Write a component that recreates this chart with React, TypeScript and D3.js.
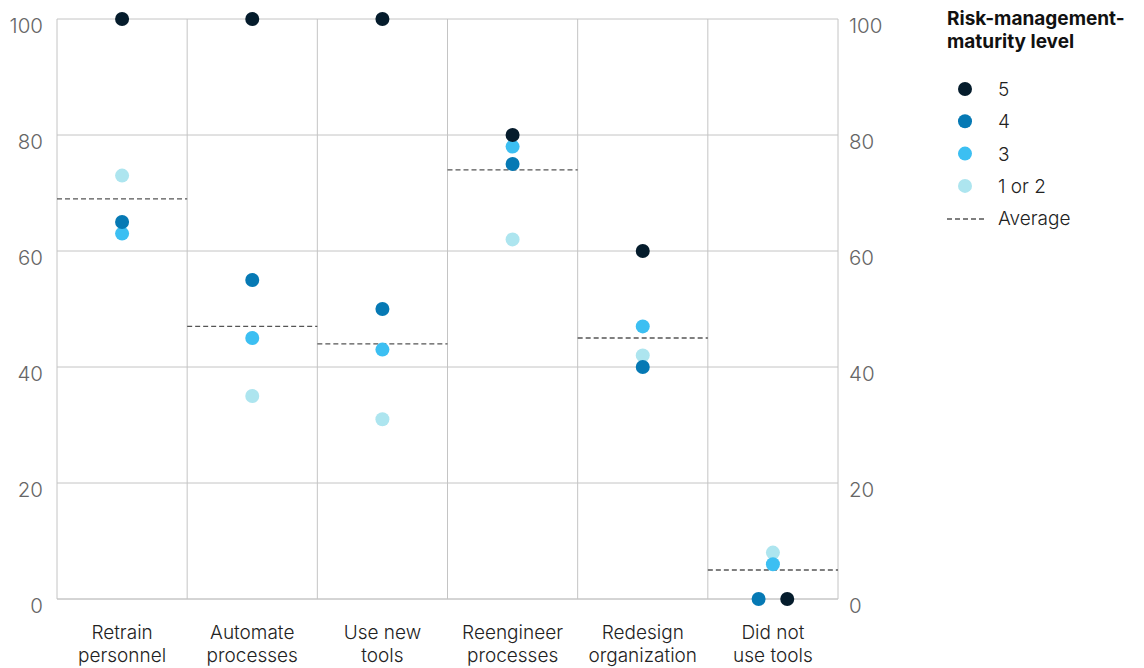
import React from "react";
import * as d3 from "d3";

const categories = [
  ["Retrain", "personnel"],
  ["Automate", "processes"],
  ["Use new", "tools"],
  ["Reengineer", "processes"],
  ["Redesign", "organization"],
  ["Did not", "use tools"],
];

const levels = ["5", "4", "3", "1 or 2"];
const levelColors = ["#051c2c", "#0679b4", "#3cbff2", "#ade5ef"];

// Share of respondents by maturity level, one array per level (category order)
const level5 = [100, 100, 100, 80, 60, 0];
const level4 = [65, 55, 50, 75, 40, 0];
const level3 = [63, 45, 43, 78, 47, 6];
const level1or2 = [73, 35, 31, 62, 42, 8];
const average = [69, 47, 44, 74, 45, 5];

// Horizontal nudge (in column fractions) where values coincide on the axis
const level5Offset = [0, 0, 0, 0, 0, 0.11];
const level4Offset = [0, 0, 0, 0, 0, -0.11];

const yTicks = [0, 20, 40, 60, 80, 100];

const series = [
  { values: level1or2, offsets: [0, 0, 0, 0, 0, 0], color: levelColors[3] },
  { values: level3, offsets: [0, 0, 0, 0, 0, 0], color: levelColors[2] },
  { values: level4, offsets: level4Offset, color: levelColors[1] },
  { values: level5, offsets: level5Offset, color: levelColors[0] },
];

const FONT = "Inter, 'Noto Sans', sans-serif";

export default function App() {
  const width = 1144;
  const height = 668;
  const left = 57;
  const right = 838;
  const top = 19;
  const bottom = 599;

  const x = d3
    .scaleBand<number>()
    .domain(d3.range(categories.length))
    .range([left, right])
    .padding(0);
  const y = d3.scaleLinear().domain([0, 100]).range([bottom, top]);
  const bw = x.bandwidth();

  return (
    <svg
      width={width}
      height={height}
      style={{ position: "absolute", left: 0, top: 0, background: "#fff" }}
      fontFamily={FONT}
    >
      {/* horizontal grid */}
      {yTicks.map((t) => (
        <line
          key={"g" + t}
          x1={left}
          x2={right}
          y1={y(t)}
          y2={y(t)}
          stroke={t === 0 ? "#aaa" : "#c4c4c4"}
          strokeWidth={1}
        />
      ))}
      {/* column separators */}
      {d3.range(categories.length + 1).map((i) => {
        const xx = i < categories.length ? x(i)! : right;
        return (
          <line
            key={"v" + i}
            x1={xx}
            x2={xx}
            y1={y(100)}
            y2={y(0)}
            stroke="#c4c4c4"
            strokeWidth={1}
          />
        );
      })}
      {/* y tick labels, both sides */}
      {yTicks.map((t) => (
        <g key={"t" + t}>
          <text
            x={43}
            y={y(t) + 14}
            textAnchor="end"
            fontSize={20.5}
            fill="#666"
            fontWeight={300}
          >
            {t}
          </text>
          <text
            x={849}
            y={y(t) + 14}
            textAnchor="start"
            fontSize={20.5}
            fill="#666"
            fontWeight={300}
          >
            {t}
          </text>
        </g>
      ))}
      {/* category labels */}
      {categories.map((c, i) => (
        <text
          key={"c" + i}
          x={x(i)! + bw / 2}
          textAnchor="middle"
          fontSize={19}
          fill="#222"
          fontWeight={300}
        >
          <tspan x={x(i)! + bw / 2} y={639}>
            {c[0]}
          </tspan>
          <tspan x={x(i)! + bw / 2} y={662}>
            {c[1]}
          </tspan>
        </text>
      ))}
      {/* averages */}
      {average.map((v, i) => (
        <line
          key={"a" + i}
          x1={x(i)!}
          x2={x(i)! + bw}
          y1={y(v)}
          y2={y(v)}
          stroke="#555"
          strokeWidth={1.3}
          strokeDasharray="5 3"
        />
      ))}
      {/* points */}
      {series.map((s, si) =>
        s.values.map((v, i) => (
          <circle
            key={"p" + si + "-" + i}
            cx={x(i)! + bw / 2 + s.offsets[i] * bw}
            cy={y(v)}
            r={7}
            fill={s.color}
          />
        ))
      )}
      {/* legend */}
      <text x={947} y={25} fontSize={19} fontWeight={700} fill="#111">
        <tspan x={947} y={25}>
          Risk-management-
        </tspan>
        <tspan x={947} y={48}>
          maturity level
        </tspan>
      </text>
      {levels.map((l, i) => (
        <g key={"l" + i}>
          <circle cx={965} cy={89 + i * 32.3} r={7} fill={levelColors[i]} />
          <text x={998} y={96 + i * 32.3} fontSize={19} fill="#222" fontWeight={300}>
            {l}
          </text>
        </g>
      ))}
      <line
        x1={947}
        x2={984}
        y1={219}
        y2={219}
        stroke="#555"
        strokeWidth={1.3}
        strokeDasharray="5 3"
      />
      <text x={998} y={225} fontSize={19} fill="#222" fontWeight={300}>
        Average
      </text>
    </svg>
  );
}
